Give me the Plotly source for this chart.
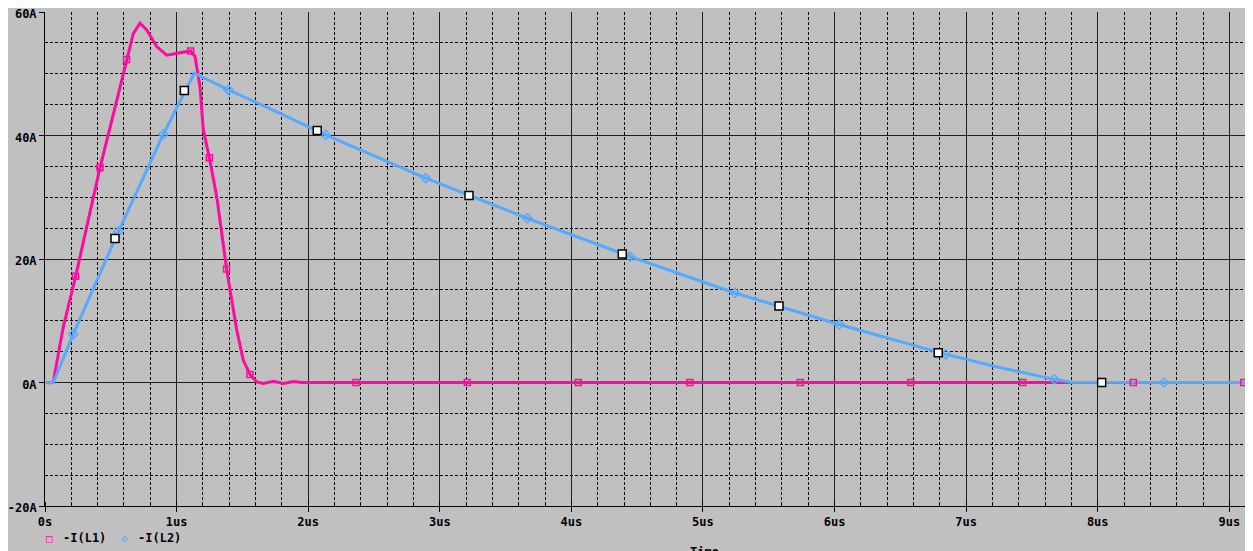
import plotly.graph_objects as go

# ---- data (time in us, current in A) ----
l1_time = [0.03, 0.063, 0.10, 0.139, 0.233, 0.33, 0.418, 0.52, 0.62, 0.671, 0.722, 0.773,
           0.849, 0.925, 1.026, 1.107, 1.14, 1.178, 1.203, 1.249, 1.305, 1.38, 1.457,
           1.507, 1.558, 1.609, 1.659, 1.735, 1.811, 1.887, 1.95, 9.2]
l1_current = [-0.1, 0.0, 4.5, 9.0, 17.2, 26.2, 34.8, 43.5, 52.3, 56.5, 58.2, 57.1,
              54.4, 53.0, 53.4, 53.7, 52.8, 47.9, 40.9, 36.4, 30.1, 18.4, 8.5,
              3.6, 1.3, 0.1, -0.15, 0.2, -0.15, 0.15, 0.0, 0.0]

l1_mark_time = [0.233, 0.418, 0.62, 1.107, 1.249, 1.38, 1.558, 2.363, 3.209, 4.053,
                4.90, 5.74, 6.58, 7.43, 8.27, 9.11]
l1_mark_current = [17.2, 34.8, 52.3, 53.7, 36.4, 18.4, 1.3, 0, 0, 0, 0, 0, 0, 0, 0, 0]

l2_time = [0.0, 0.063, 0.215, 0.557, 0.899, 1.135, 1.393, 1.786, 2.133, 2.893, 3.665,
           4.445, 5.243, 6.036, 6.846, 7.23, 7.67, 7.80, 9.2]
l2_current = [0.0, 0.0, 7.85, 24.4, 40.2, 50.1, 47.4, 43.6, 40.1, 33.1, 26.6,
              20.4, 14.5, 9.4, 4.56, 2.56, 0.51, 0.05, 0.0]

l2_mark_time = [0.215, 0.557, 0.899, 1.393, 2.133, 2.893, 3.665, 4.445, 5.243, 6.036,
                6.846, 7.67, 8.505]
l2_mark_current = [7.85, 24.4, 40.2, 47.4, 40.1, 33.1, 26.6, 20.4, 14.5, 9.4,
                   4.56, 0.51, 0.0]

cursor_time = [0.532, 1.059, 2.069, 3.222, 4.387, 5.578, 6.788, 8.03]
cursor_current = [23.3, 47.3, 40.8, 30.3, 20.8, 12.4, 4.83, 0.0]

x_tick_vals = [0, 1, 2, 3, 4, 5, 6, 7, 8, 9]
x_tick_text = ["0s", "1us", "2us", "3us", "4us", "5us", "6us", "7us", "8us", "9us"]
y_tick_vals = [-20, 0, 20, 40, 60]
y_tick_text = ["-20A", "0A", "20A", "40A", "60A"]

MAGENTA = "#ff0aa0"
BLUE = "#55aaff"
BG = "#c0c0c0"
FONT = "DejaVu Sans Mono"

fig = go.Figure()
fig.add_trace(go.Scatter(x=l1_time, y=l1_current, mode="lines",
                         line=dict(color=MAGENTA, width=3), showlegend=False))
fig.add_trace(go.Scatter(x=l2_time, y=l2_current, mode="lines",
                         line=dict(color=BLUE, width=3), showlegend=False))
fig.add_trace(go.Scatter(x=l1_mark_time, y=l1_mark_current, mode="markers",
                         marker=dict(symbol="square-open", size=6, color=MAGENTA,
                                     line=dict(width=1.5, color=MAGENTA)),
                         showlegend=False))
fig.add_trace(go.Scatter(x=l2_mark_time, y=l2_mark_current, mode="markers",
                         marker=dict(symbol="diamond-open", size=7, color=BLUE,
                                     line=dict(width=1.5, color=BLUE)),
                         showlegend=False))
fig.add_trace(go.Scatter(x=cursor_time, y=cursor_current, mode="markers",
                         marker=dict(symbol="square", size=8, color="white",
                                     line=dict(width=1.5, color="black")),
                         showlegend=False))

# The page body has an 8px margin, so the figure starts at (8, 8) in the window.
OFF = 8
W, H = 1253 - OFF, 551 - OFF
L, R, T, B = 45 - OFF, 0, 12 - OFF, 551 - 506
PW, PH = W - L - R, H - T - B


def px(xv):
    return (xv - OFF - L) / PW


def py(yv):
    return 1 - (yv - OFF - T) / PH


tick_font = dict(family=FONT, size=12, color="black", weight="bold")

fig.update_layout(
    width=W, height=H, autosize=False,
    margin=dict(l=L, r=R, t=T, b=B, pad=0),
    paper_bgcolor=BG, plot_bgcolor=BG,
    xaxis=dict(range=[0, 9.18], tickvals=x_tick_vals, ticktext=x_tick_text,
               automargin=False, ticklabeloverflow="allow",
               showgrid=True, gridcolor="#202020", gridwidth=1,
               zeroline=False, showline=True, linecolor="black", linewidth=1,
               ticks="outside", ticklen=5, tickcolor="black", tickfont=tick_font,
               minor=dict(dtick=0.2, tick0=0, showgrid=True, gridcolor="black",
                          griddash="3px,2px", gridwidth=1, ticks="inside",
                          ticklen=4, tickcolor="black")),
    yaxis=dict(range=[-20, 60], tickvals=y_tick_vals, ticktext=y_tick_text,
               automargin=False, ticklabeloverflow="allow", ticklabelshift=2,
               showgrid=True, gridcolor="#202020", gridwidth=1,
               zeroline=False, showline=True, linecolor="black", linewidth=1,
               ticks="outside", ticklen=5, tickcolor="black", tickfont=tick_font,
               minor=dict(dtick=5, tick0=0, showgrid=True, gridcolor="black",
                          griddash="3px,2px", gridwidth=1)),
    showlegend=False,
)

legend_font = dict(family=FONT, size=12, color="black", weight="bold")
fig.add_annotation(xref="paper", yref="paper", x=px(49), y=py(538), text="□",
                   showarrow=False, xanchor="center", yanchor="middle",
                   font=dict(family=FONT, size=11, color=MAGENTA))
fig.add_annotation(xref="paper", yref="paper", x=px(61), y=py(538), text="-I(L1)",
                   showarrow=False, xanchor="left", yanchor="middle", font=legend_font)
fig.add_annotation(xref="paper", yref="paper", x=px(124), y=py(538), text="◇",
                   showarrow=False, xanchor="center", yanchor="middle",
                   font=dict(family=FONT, size=11, color=BLUE))
fig.add_annotation(xref="paper", yref="paper", x=px(136), y=py(538), text="-I(L2)",
                   showarrow=False, xanchor="left", yanchor="middle", font=legend_font)
fig.add_annotation(xref="paper", yref="paper", x=px(704), y=py(543), text="Time",
                   showarrow=False, xanchor="center", yanchor="top", font=legend_font)

fig.write_html("out.html")
